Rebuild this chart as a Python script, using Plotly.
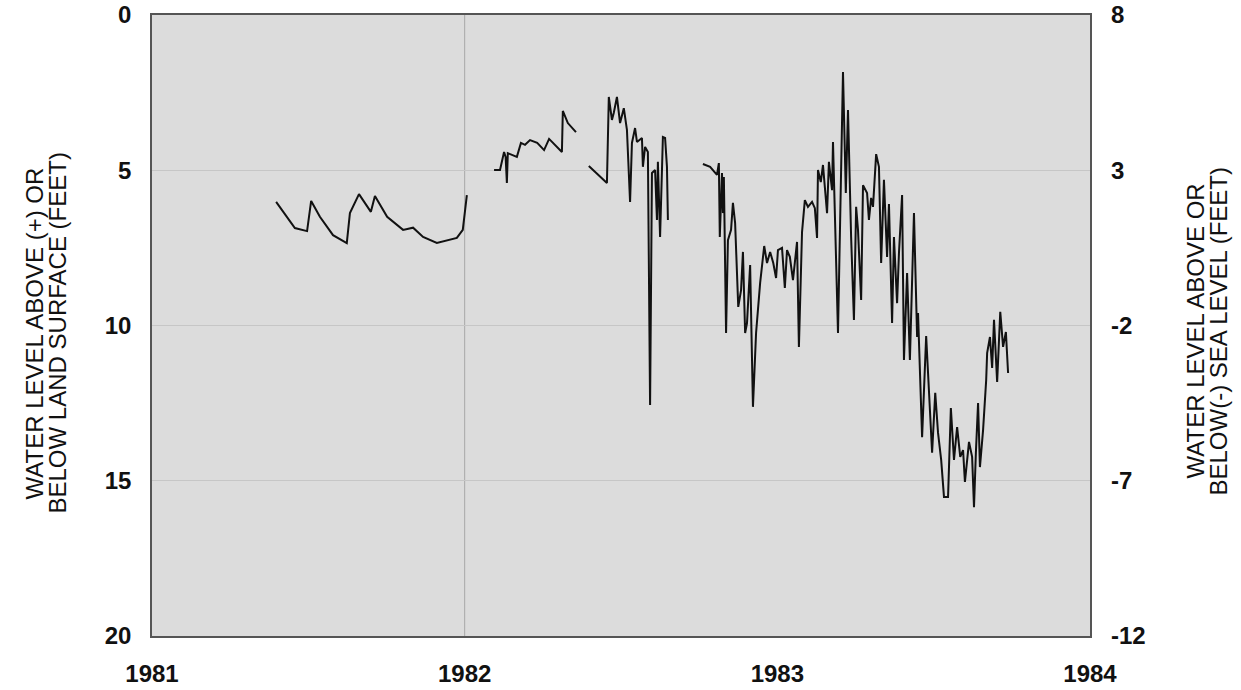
"""Water level hydrograph, 1981-1984 (depth below land surface / elevation vs sea level)"""
import plotly.graph_objects as go

# decimal year / depth below land surface (feet); None breaks the record into segments
years = [
    1981.397, 1981.457, 1981.496, 1981.509, 1981.537, 1981.579, 1981.623, 1981.633,
    1981.662, 1981.700, 1981.713, 1981.752, 1981.803, 1981.835, 1981.867, 1981.911,
    1981.975, 1981.994, 1982.007,
    1982.05,
    1982.094, 1982.113, 1982.126, 1982.131, 1982.135, 1982.138, 1982.167, 1982.180,
    1982.193, 1982.209, 1982.232, 1982.254, 1982.270, 1982.283, 1982.311, 1982.314,
    1982.330, 1982.356,
    1982.38,
    1982.397, 1982.455, 1982.461, 1982.471, 1982.477, 1982.487, 1982.497, 1982.509,
    1982.519, 1982.529, 1982.535, 1982.545, 1982.551, 1982.567, 1982.570, 1982.577,
    1982.586, 1982.593, 1982.599, 1982.609, 1982.615, 1982.618, 1982.625, 1982.634,
    1982.641, 1982.647, 1982.650,
    1982.70,
    1982.762, 1982.785, 1982.807, 1982.813, 1982.816, 1982.823, 1982.826, 1982.829,
    1982.836, 1982.842, 1982.852, 1982.858, 1982.865, 1982.875, 1982.884, 1982.890,
    1982.897, 1982.903, 1982.913, 1982.922, 1982.932, 1982.945, 1982.958, 1982.967,
    1982.977, 1982.987, 1982.996, 1983.002, 1983.015, 1983.024, 1983.031, 1983.040,
    1983.050, 1983.056, 1983.063, 1983.069, 1983.079, 1983.088, 1983.098, 1983.111,
    1983.120, 1983.127, 1983.130, 1983.139, 1983.146, 1983.159, 1983.165, 1983.175,
    1983.178, 1983.194, 1983.210, 1983.219, 1983.226, 1983.236, 1983.245, 1983.252,
    1983.258, 1983.268, 1983.274, 1983.287, 1983.293, 1983.300, 1983.306, 1983.316,
    1983.325, 1983.332, 1983.341, 1983.351, 1983.357, 1983.367, 1983.373, 1983.383,
    1983.389, 1983.399, 1983.405, 1983.415, 1983.424, 1983.437, 1983.447, 1983.450,
    1983.463, 1983.476, 1983.485, 1983.495, 1983.505, 1983.514, 1983.524, 1983.533,
    1983.546, 1983.555, 1983.565, 1983.575, 1983.585, 1983.594, 1983.600, 1983.613,
    1983.623, 1983.629, 1983.635, 1983.642, 1983.648, 1983.658, 1983.668, 1983.671,
    1983.680, 1983.687, 1983.693, 1983.703, 1983.713, 1983.722, 1983.731, 1983.738,
    1983.747,
]
depth_ft = [
    6.02, 6.86, 6.96, 5.99, 6.50, 7.09, 7.35, 6.38,
    5.77, 6.34, 5.83, 6.50, 6.92, 6.85, 7.15, 7.34,
    7.18, 6.92, 5.80,
    None,
    4.99, 4.99, 4.41, 4.57, 5.41, 4.45, 4.57, 4.12,
    4.18, 4.03, 4.12, 4.35, 3.99, 4.12, 4.41, 3.09,
    3.48, 3.77,
    None,
    4.86, 5.41, 2.64, 3.38, 3.15, 2.64, 3.48, 3.00,
    3.70, 6.02, 4.12, 3.64, 4.09, 3.96, 4.89, 4.25,
    4.41, 12.56, 5.09, 4.99, 6.60, 4.73, 7.15, 3.93,
    3.96, 4.89, 6.60,
    None,
    4.80, 4.89, 5.15, 4.77, 7.15, 5.09, 6.38, 5.22,
    10.24, 7.25, 6.92, 6.05, 6.70, 9.40, 8.86, 7.63,
    10.24, 9.92, 8.05, 12.62, 10.24, 8.63, 7.44, 7.99,
    7.63, 7.99, 8.47, 7.57, 7.50, 8.79, 7.57, 7.79,
    8.54, 7.89, 7.31, 10.69, 6.99, 5.96, 6.18, 6.02,
    6.22, 7.18, 4.99, 5.38, 4.83, 6.38, 4.73, 5.64,
    4.09, 10.24, 1.84, 5.73, 3.06, 7.15, 9.82, 6.18,
    6.92, 9.18, 5.48, 5.73, 6.60, 5.89, 6.18, 4.48,
    4.89, 7.99, 5.31, 7.79, 6.09, 9.92, 7.15, 9.28,
    7.67, 5.80, 11.11, 8.31, 11.11, 6.38, 10.37, 9.60,
    13.60, 10.34, 12.17, 14.10, 12.17, 13.46, 14.33, 15.52,
    15.52, 12.66, 14.33, 13.27, 14.23, 14.01, 15.04, 13.75,
    14.23, 15.85, 14.10, 12.50, 14.56, 13.37, 11.75, 10.89,
    10.37, 11.37, 9.82, 11.82, 9.56, 10.69, 10.21, 11.53,
]

# land surface datum is 8 ft above sea level
LAND_SURFACE_FT = 8
sea_level_ft = [None if d is None else LAND_SURFACE_FT - d for d in depth_ft]

x_ticks = [1981, 1982, 1983, 1984]
left_ticks = [0, 5, 10, 15, 20]
right_ticks = [8, 3, -2, -7, -12]

left_title = ["WATER LEVEL ABOVE (+) OR", "BELOW LAND SURFACE (FEET)"]
right_title = ["WATER LEVEL ABOVE OR", "BELOW(-) SEA LEVEL (FEET)"]

TICK_FONT = dict(family="Liberation Sans, Arial, sans-serif", size=24, color="#111111")
TITLE_FONT = dict(family="Liberation Sans, Arial, sans-serif", size=24, color="#111111")

fig = go.Figure()
fig.add_trace(go.Scatter(
    x=years, y=depth_ft, mode="lines",
    line=dict(color="#111111", width=2),
    connectgaps=False, showlegend=False,
))
# invisible copy on the sea-level axis so the right axis is tied to the data
fig.add_trace(go.Scatter(
    x=years, y=sea_level_ft, mode="lines", yaxis="y2",
    line=dict(color="rgba(0,0,0,0)", width=0),
    hoverinfo="skip", showlegend=False,
))

fig.add_vline(x=1982, line=dict(color="#a8a8a8", width=1), layer="below")

fig.update_layout(
    width=1241, height=690,
    margin=dict(l=152, r=151, t=15, b=54),
    paper_bgcolor="white",
    plot_bgcolor="#dcdcdc",
    xaxis=dict(
        range=[1981, 1984], tickvals=x_ticks, ticktext=[f"<b>{v}</b>" for v in x_ticks],
        showgrid=False, zeroline=False, ticks="", automargin=False,
        ticklabelstandoff=15,
        showline=True, mirror=True, linecolor="#555555", linewidth=1.5,
        tickfont=TICK_FONT,
    ),
    yaxis=dict(
        range=[20, 0], tickvals=left_ticks, ticktext=[f"<b>{v}</b>" for v in left_ticks],
        showgrid=True, gridcolor="#c6c6c6", gridwidth=1, zeroline=False, ticks="",
        automargin=False, ticklabelstandoff=14,
        showline=True, mirror=True, linecolor="#555555", linewidth=1.5,
        tickfont=TICK_FONT,
    ),
    yaxis2=dict(
        range=[-12, 8], overlaying="y", side="right",
        tickvals=right_ticks, ticktext=[f"<b>{v}</b>" for v in right_ticks],
        showgrid=False, zeroline=False, ticks="", automargin=False,
        ticklabelstandoff=20,
        tickfont=TICK_FONT,
    ),
)

# two-line axis titles, set as separate lines for the tight leading of the original
for line, shift in zip(left_title, [-118, -95]):
    fig.add_annotation(
        text=line, xref="paper", yref="paper", x=0, y=0.5, xshift=shift, yshift=-8,
        xanchor="center", yanchor="middle", textangle=-90, showarrow=False,
        font=TITLE_FONT,
    )
for line, shift in zip(right_title, [105, 128]):
    fig.add_annotation(
        text=line, xref="paper", yref="paper", x=1, y=0.5, xshift=shift, yshift=-6,
        xanchor="center", yanchor="middle", textangle=-90, showarrow=False,
        font=TITLE_FONT,
    )

# drop the browser's default 8px body margin so the figure fills the window
fig.write_html(
    "out.html",
    config={"displayModeBar": False},
    post_script="document.body.style.margin = '0';",
)
